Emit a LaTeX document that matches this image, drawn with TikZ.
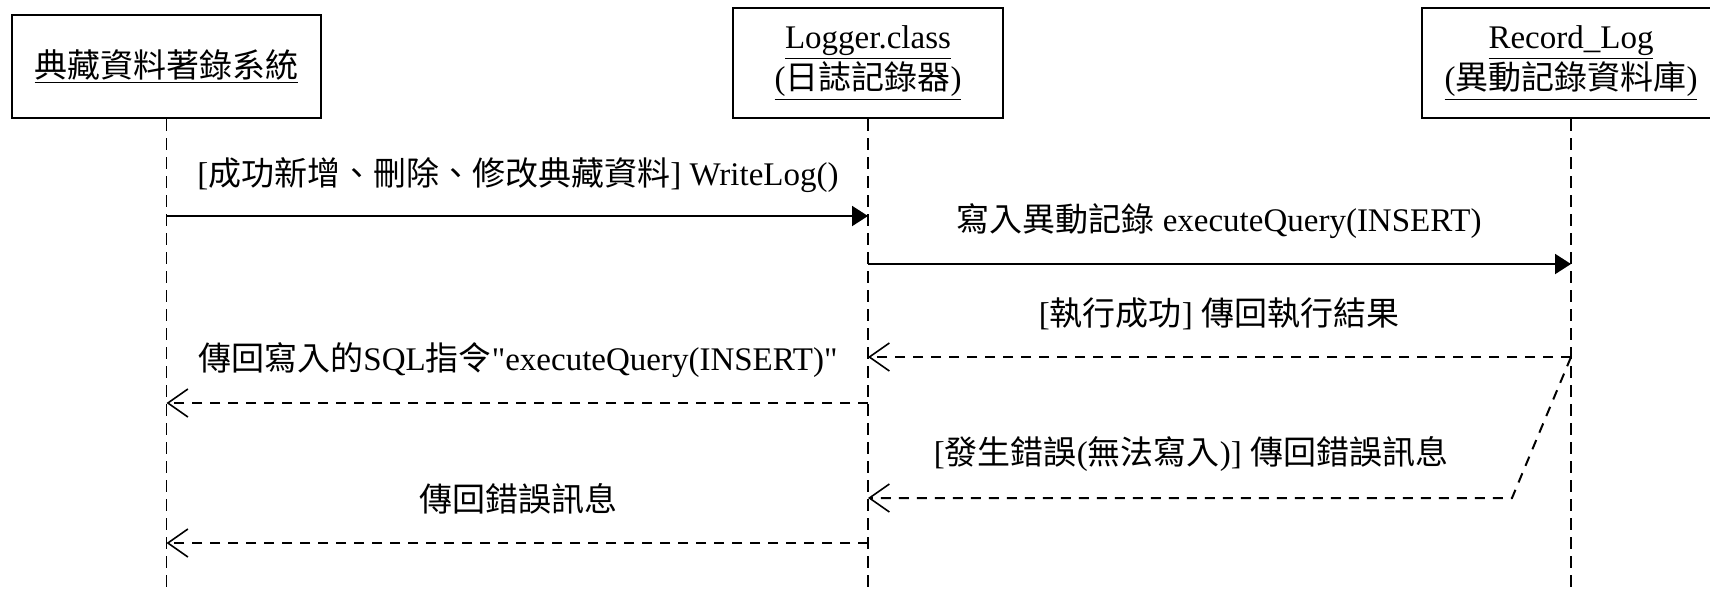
\documentclass[tikz,border=0pt]{standalone}
\usepackage{fontspec}
\setmainfont{Liberation Serif}
\newfontfamily\cjk{Noto Sans CJK TC}
\newfontfamily\rawserif{Liberation Serif}
\newcommand{\zh}[1]{{\cjk #1}}
\newcommand{\dq}{{\rawserif"}}
\usetikzlibrary{arrows.meta}
\tikzset{
  actor/.style={draw, line width=1pt, inner sep=0pt, align=center, font=\fontsize{16.5}{19.5}\selectfont},
  lifeline/.style={line width=0.8pt, dash pattern=on 6pt off 3.5pt},
  call/.style={line width=1pt, -{Triangle[length=8pt,width=10pt]}},
  reply/.style={line width=1pt, dash pattern=on 5pt off 4pt, -{Straight Barb[length=10pt,width=14pt,line width=0.8pt]}},
  msg/.style={inner sep=0pt, font=\fontsize{16.5}{19.5}\selectfont},
}
\begin{document}
\begin{tikzpicture}[x=0.5pt,y=-0.5pt]
\useasboundingbox (0,0) rectangle (1710,591);
\node[actor, minimum width=154.5pt, minimum height=51.5pt] (sys) at (166.5,66.5) {\underline{\zh{典藏資料著錄系統}}};
\node[actor, minimum width=135pt, minimum height=55pt] (logger) at (868,63) {\underline{Logger.class}\\\underline{(\zh{日誌記錄器})}};
\node[actor, minimum width=149pt, minimum height=55pt] (rec) at (1571,63) {\underline{Record\_Log}\\\underline{(\zh{異動記錄資料庫})}};
\coordinate (sysend) at (sys.south |- 0,591);
\coordinate (loggerend) at (logger.south |- 0,591);
\coordinate (recend) at (rec.south |- 0,591);
\draw[lifeline] (sys.south) -- (sysend);
\draw[lifeline] (logger.south) -- (loggerend);
\draw[lifeline] (rec.south) -- (recend);
\coordinate (m1a) at (sys.south |- 0,216);
\coordinate (m1b) at (logger.south |- 0,216);
\coordinate (m2a) at (logger.south |- 0,264);
\coordinate (m2b) at (rec.south |- 0,264);
\coordinate (m3a) at (rec.south |- 0,357);
\coordinate (m3b) at (logger.south |- 0,357);
\coordinate (m4a) at (logger.south |- 0,403);
\coordinate (m4b) at (sys.south |- 0,403);
\coordinate (m5k) at (1512,498);
\coordinate (m5b) at (logger.south |- 0,498);
\coordinate (m6a) at (logger.south |- 0,543);
\coordinate (m6b) at (sys.south |- 0,543);
\draw[call] (m1a) -- (m1b);
\draw[call] (m2a) -- (m2b);
\draw[reply] (m3a) -- (m3b);
\draw[reply] (m4a) -- (m4b);
\draw[reply] (m3a) -- (m5k) -- (m5b);
\draw[reply] (m6a) -- (m6b);
\node[msg] (l1) at (518,175) {[\zh{成功新增、刪除、修改典藏資料}] WriteLog()};
\node[msg] (l2) at (1219,221) {\zh{寫入異動記錄} executeQuery(INSERT)};
\node[msg] (l3) at (1219,314) {[\zh{執行成功}] \zh{傳回執行結果}};
\node[msg] (l4) at (518,360) {\zh{傳回寫入的}SQL\zh{指令}\dq executeQuery(INSERT)\dq};
\node[msg] (l5) at (1191,454) {[\zh{發生錯誤}(\zh{無法寫入})] \zh{傳回錯誤訊息}};
\node[msg] (l6) at (518,499) {\zh{傳回錯誤訊息}};
\end{tikzpicture}
\end{document}
